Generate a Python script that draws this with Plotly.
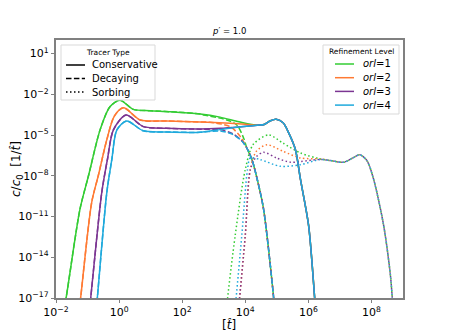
import numpy as np
import plotly.graph_objects as go

# curves, stored as log10(t) and log10(c/c0)
colors = {1: "#33cc33", 2: "#ff7a33", 3: "#7b3592", 4: "#1ea9dc"}

cons_lx = {
    1: [-1.8, -1.68, -1.24, -0.97, -0.6, -0.29, 0.03, 0.45, 0.98, 1.62, 2.57, 3.2, 3.8],
    2: [-1.3, -1.22, -0.87, -0.66, -0.39, -0.15, 0.14, 0.67, 1.51, 2.57, 3.52, 4.0],
    3: [-0.97, -0.9, -0.55, -0.37, -0.18, 0.22, 0.77, 1.5, 2.57, 3.2, 3.8],
    4: [-0.75, -0.69, -0.39, -0.23, -0.07, 0.24, 0.77, 1.5, 2.57, 3.2, 3.8],
}
cons_ly = {
    1: [-18.5, -17, -10.46, -8.0, -4.6, -2.92, -2.43, -3.11, -3.21, -3.28, -3.45, -3.68, -4.02],
    2: [-18.5, -17, -9.97, -8.0, -5.35, -3.6, -2.99, -3.89, -3.96, -4.04, -4.13, -4.2],
    3: [-18.5, -17, -9.24, -6.8, -4.62, -3.53, -4.38, -4.5, -4.55, -4.5, -4.4],
    4: [-18.5, -17, -9.24, -6.8, -4.62, -3.96, -4.69, -4.77, -4.79, -4.6, -4.4],
}
cons_tail_lx = [4.38, 4.6, 4.8, 4.98, 5.2, 5.38, 5.59, 5.75, 6.01, 6.2, 6.25]
cons_tail_ly = [-4.28, -4.22, -3.95, -3.84, -4.1, -4.86, -6.08, -8.27, -11.7, -17, -18.5]

dec_lx = {
    1: [2.68, 3.42, 3.73, 3.95],
    2: [2.89, 3.52, 3.84],
    3: [2.57, 3.2, 3.6, 3.9],
    4: [2.57, 3.2, 3.6, 3.9],
}
dec_ly = {
    1: [-3.52, -3.89, -4.26, -5.23],
    2: [-4.06, -4.38, -5.1],
    3: [-4.57, -4.6, -4.9, -5.45],
    4: [-4.8, -4.7, -4.95, -5.45],
}
dec_tail_lx = [4.05, 4.21, 4.38, 4.58, 4.9, 4.95]
dec_tail_ly = [-5.96, -6.8, -8.27, -10.46, -17, -18.5]

sorb_lx = {
    1: [3.38, 3.44, 3.68, 4.0, 4.25, 4.74, 5.2, 5.75, 6.38],
    2: [3.76, 3.82, 4.0, 4.16, 4.35, 4.69, 5.2, 5.75, 6.38],
    3: [3.76, 3.82, 4.0, 4.16, 4.35, 4.58, 5.0, 5.43, 5.75, 6.38],
    4: [3.65, 3.71, 3.89, 4.07, 4.16, 4.48, 5.11, 5.75, 6.38],
}
sorb_ly = {
    1: [-18.5, -17, -12.4, -7.54, -5.7, -4.99, -5.6, -6.32, -6.76],
    2: [-18.5, -17, -12.4, -7.54, -6.2, -5.72, -6.2, -6.69, -6.76],
    3: [-18.5, -17, -12.4, -7.54, -6.6, -6.27, -6.7, -7.0, -6.95, -6.8],
    4: [-18.5, -17, -12.4, -7.54, -6.69, -6.81, -7.3, -7.18, -6.8],
}
sorb_tail_lx = [6.7, 7.12, 7.4, 7.63, 7.86, 8.07, 8.39, 8.6, 8.66, 8.7]
sorb_tail_ly = [-6.88, -7.0, -6.7, -6.45, -6.9, -8.27, -11.7, -15.3, -17, -18.5]

x_ticks = [-2, 0, 2, 4, 6, 8]
y_ticks = [-17, -14, -11, -8, -5, -2, 1]

tracer_names = ["Conservative", "Decaying", "Sorbing"]
levels = [1, 2, 3, 4]

# matplotlib-like dash patterns
DASHED = "5.5px,2.4px"
DOTTED = "1.5px,2.5px"
tracer_dash = ["solid", DASHED, DOTTED]

# the page body has an 8px margin, so the figure is a bit smaller
OFF = 8
W, H = 449 - OFF, 336 - OFF
L, R, T, B = 56 - OFF, 46, 40 - OFF, 38
pw, ph = W - L - R, H - T - B


def px(x):
    # screen pixel -> paper fraction
    return (x - OFF - L) / pw


def py(y):
    return 1 - (y - OFF - T) / ph


fig = go.Figure()


def add_curve(lx, ly, color, dash):
    fig.add_trace(go.Scatter(
        x=10.0 ** np.array(lx), y=10.0 ** np.array(ly), mode="lines",
        line=dict(color=color, width=1.5, dash=dash, shape="spline", smoothing=0.8),
        showlegend=False, hoverinfo="skip"))


for k in levels:
    c = colors[k]
    lx = cons_lx[k]
    ly = cons_ly[k]
    split = dec_lx[k][0]
    pre_x = [v for v in lx if v < split]
    pre_y = [ly[i] for i, v in enumerate(lx) if v < split]
    add_curve(pre_x + dec_lx[k] + dec_tail_lx, pre_y + dec_ly[k] + dec_tail_ly, c, DASHED)
    add_curve(lx + cons_tail_lx, ly + cons_tail_ly, c, "solid")
    add_curve(sorb_lx[k] + sorb_tail_lx, sorb_ly[k] + sorb_tail_ly, c, DOTTED)

shapes = []
annotations = []


def label(text, x, y, size, xanchor="center", angle=0):
    annotations.append(dict(text=text, xref="paper", yref="paper", x=px(x), y=py(y),
                            xanchor=xanchor, yanchor="middle", textangle=angle,
                            showarrow=False, font=dict(size=size)))


# legend boxes drawn by hand (matplotlib-like compact legends)
shapes.append(dict(type="rect", xref="paper", yref="paper",
                   x0=px(61), x1=px(155), y0=py(100), y1=py(45),
                   line=dict(color="#d9d9d9", width=1), fillcolor="white", layer="above"))
shapes.append(dict(type="rect", xref="paper", yref="paper",
                   x0=px(323), x1=px(399), y0=py(114), y1=py(45),
                   line=dict(color="#d9d9d9", width=1), fillcolor="white", layer="above"))
label("Tracer Type", 108, 53, 7.5)
label("Refinement Level", 361, 52, 7.5)
for i, name in enumerate(tracer_names):
    yy = 65 + i * 13.5
    shapes.append(dict(type="line", xref="paper", yref="paper",
                       x0=px(66), x1=px(85), y0=py(yy), y1=py(yy),
                       line=dict(color="black", width=1.5, dash=tracer_dash[i]), layer="above"))
    label(name, 90, yy, 10, xanchor="left")
for i, k in enumerate(levels):
    yy = 64 + i * 13.7
    shapes.append(dict(type="line", xref="paper", yref="paper",
                       x0=px(335), x1=px(354), y0=py(yy), y1=py(yy),
                       line=dict(color=colors[k], width=1.5), layer="above"))
    label("<i>orl</i>=%d" % k, 361, yy, 10, xanchor="left")

# axis titles and panel title
label("<i>c</i>/<i>c</i><sub>0</sub>  [1/<i>t̂</i>]", 17, 169, 12, angle=-90)
label("[<i>t̂</i>]", 229, 325, 12)
label("<i>p</i>′ = 1.0", 229, 31, 8.5)

axis_common = dict(type="log", showgrid=False, zeroline=False, showline=True,
                   linecolor="#808080", linewidth=1.5, mirror=True, automargin=False,
                   ticks="outside", ticklen=3.5, tickcolor="#808080",
                   tickfont=dict(size=11, color="black", family="DejaVu Sans"))

fig.update_layout(
    width=W, height=H,
    margin=dict(l=L, r=R, t=T, b=B),
    plot_bgcolor="white", paper_bgcolor="white",
    font=dict(family="DejaVu Sans", color="black"),
    showlegend=False,
    xaxis=dict(axis_common, range=[-2, 9],
               tickvals=[10.0 ** v for v in x_ticks],
               ticktext=["10<sup>%s</sup>" % str(v).replace("-", "−") for v in x_ticks]),
    yaxis=dict(axis_common, range=[-17, 2],
               tickvals=[10.0 ** v for v in y_ticks],
               ticktext=["10<sup>%s</sup>" % str(v).replace("-", "−") for v in y_ticks]),
    shapes=shapes,
    annotations=annotations,
)

fig.write_html("out.html")
